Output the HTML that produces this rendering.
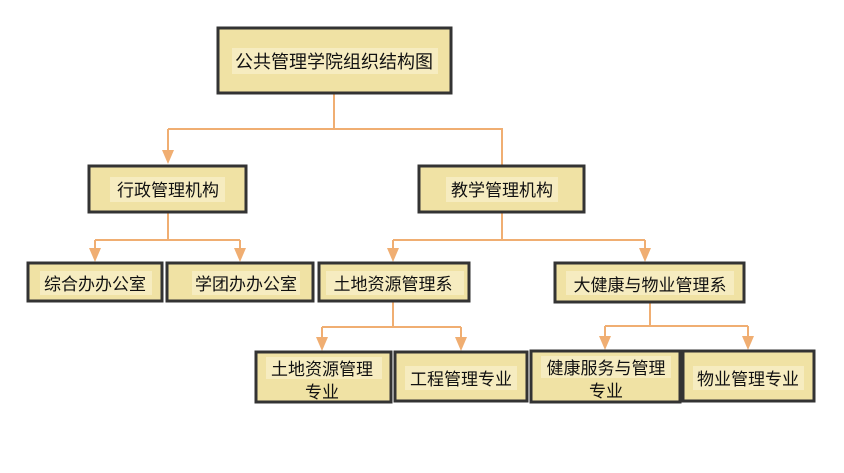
<!DOCTYPE html>
<html><head><meta charset="utf-8"><style>
html,body{margin:0;padding:0;background:#fff;}
svg{display:block;}
text{font-family:"Liberation Sans","Noto Sans CJK SC",sans-serif;font-size:17px;fill:#111;}
.b{fill:#f0e2a4;stroke:#333;stroke-width:3;}
.t{fill:#f6ecc0;}
.l{stroke:#f0ae72;stroke-width:2;fill:none;}
.a{fill:#f0ae72;}
</style></head><body>
<svg width="844" height="473" viewBox="0 0 844 473">
<!-- connectors -->
<path class="l" d="M334 93V129M168 129H502V166M168 129V152"/>
<polygon class="a" points="162,150 174,150 168,164"/>
<path class="l" d="M168 212V240M95 240H240M95 240V250M240 240V250"/>
<polygon class="a" points="89,248 101,248 95,262"/>
<polygon class="a" points="234,248 246,248 240,262"/>
<path class="l" d="M502 212V240M393 240H645M393 240V250M645 240V250"/>
<polygon class="a" points="387,248 399,248 393,262"/>
<polygon class="a" points="639,248 651,248 645,262"/>
<path class="l" d="M393 301V327M322 327H461M322 327V338M461 327V338"/>
<polygon class="a" points="316,337 328,337 322,351"/>
<polygon class="a" points="455,337 467,337 461,351"/>
<path class="l" d="M650 302V326M605 326H748M605 326V337M748 326V337"/>
<polygon class="a" points="599,336 611,336 605,350"/>
<polygon class="a" points="742,336 754,336 748,350"/>
<!-- boxes -->
<rect class="b" x="218" y="28" width="233" height="65"/>
<rect class="t" x="232" y="48" width="206" height="26"/>
<text x="334" y="68" text-anchor="middle" style="font-size:18px">公共管理学院组织结构图</text>

<rect class="b" x="89" y="166" width="157" height="46"/>
<rect class="t" x="110" y="177" width="115" height="25"/>
<text x="168" y="196" text-anchor="middle">行政管理机构</text>

<rect class="b" x="419" y="166" width="165" height="46"/>
<rect class="t" x="446" y="177" width="112" height="25"/>
<text x="502" y="196" text-anchor="middle">教学管理机构</text>

<rect class="b" x="28" y="263" width="134" height="38"/>
<rect class="t" x="40" y="271" width="112" height="24"/>
<text x="95" y="290" text-anchor="middle">综合办办公室</text>

<rect class="b" x="167" y="263" width="146" height="38"/>
<rect class="t" x="192" y="271" width="108" height="24"/>
<text x="246" y="290" text-anchor="middle">学团办办公室</text>

<rect class="b" x="319" y="263" width="150" height="38"/>
<rect class="t" x="326" y="271" width="138" height="24"/>
<text x="393" y="290" text-anchor="middle">土地资源管理系</text>

<rect class="b" x="555" y="263" width="189" height="39"/>
<rect class="t" x="566" y="271" width="168" height="24"/>
<text x="650" y="291" text-anchor="middle">大健康与物业管理系</text>

<rect class="b" x="256" y="352" width="135" height="50"/>
<rect class="t" x="266" y="357" width="116" height="22"/>
<text x="322" y="375" text-anchor="middle">土地资源管理</text>
<text x="322" y="398" text-anchor="middle">专业</text>

<rect class="b" x="395" y="352" width="132" height="49"/>
<rect class="t" x="405" y="366" width="112" height="24"/>
<text x="461" y="385" text-anchor="middle">工程管理专业</text>

<rect class="b" x="531" y="351" width="149" height="51"/>
<rect class="t" x="541" y="356" width="130" height="22"/>
<text x="606" y="374" text-anchor="middle">健康服务与管理</text>
<text x="606" y="397" text-anchor="middle">专业</text>

<rect class="b" x="683" y="351" width="131" height="50"/>
<rect class="t" x="693" y="366" width="111" height="24"/>
<text x="748" y="385" text-anchor="middle">物业管理专业</text>
</svg>
</body></html>
